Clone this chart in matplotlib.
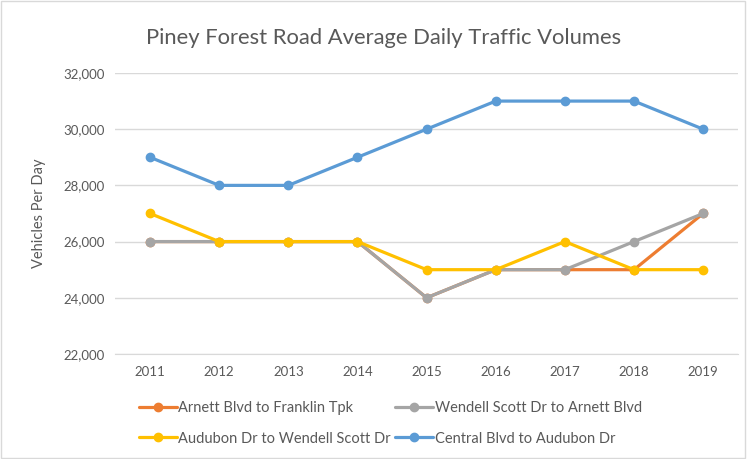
import matplotlib.pyplot as plt
from matplotlib.patches import Rectangle

years = ["2011", "2012", "2013", "2014", "2015", "2016", "2017", "2018", "2019"]
arnett_franklin = [26000, 26000, 26000, 26000, 24000, 25000, 25000, 25000, 27000]
wendell_arnett = [26000, 26000, 26000, 26000, 24000, 25000, 25000, 26000, 27000]
audubon_wendell = [27000, 26000, 26000, 26000, 25000, 25000, 26000, 25000, 25000]
central_audubon = [29000, 28000, 28000, 29000, 30000, 31000, 31000, 31000, 30000]

series = [
    ("Arnett Blvd to Franklin Tpk", arnett_franklin, "#ED7D31"),
    ("Wendell Scott Dr to Arnett Blvd", wendell_arnett, "#A5A5A5"),
    ("Audubon Dr to Wendell Scott Dr", audubon_wendell, "#FFC000"),
    ("Central Blvd to Audubon Dr", central_audubon, "#5B9BD5"),
]

plt.rcParams['font.family'] = ['Lato', 'DejaVu Sans']

fig = plt.figure(figsize=(7.47, 4.59), dpi=100)
ax = fig.add_axes([0.1546, 0.2288, 0.8330, 0.6122])

x = list(range(len(years)))
handles = {}
for name, vals, col in series:
    h, = ax.plot(x, vals, color=col, linewidth=2.3, marker='o', markersize=6,
                 solid_capstyle='round', label=name)
    handles[name] = h

ax.set_xlim(-0.5, len(years) - 0.5)
ax.set_ylim(22000, 32000)
ax.set_yticks(range(22000, 32001, 2000))
ax.set_yticklabels([f"{v:,}" for v in range(22000, 32001, 2000)])
ax.set_xticks(x)
ax.set_xticklabels(years)
ax.tick_params(axis='both', length=0, labelsize=9.5, colors='#595959')
ax.tick_params(axis='x', pad=9)
ax.tick_params(axis='y', pad=8)
ax.grid(axis='y', color='#D9D9D9', linewidth=1)
ax.set_axisbelow(True)
for s in ['top', 'right', 'left']:
    ax.spines[s].set_visible(False)
ax.spines['bottom'].set_color('#D9D9D9')

ax.set_ylabel("Vehicles Per Day", fontsize=10.5, color='#595959', labelpad=12)
fig.text(0.513, 0.918, "Piney Forest Road Average Daily Traffic Volumes",
         fontsize=15.8, color='#595959', ha='center', va='center')

# legend: two rows, filled column-wise by matplotlib
order = [series[0][0], series[2][0], series[1][0], series[3][0]]
fig.legend([handles[n] for n in order], order, ncol=2, loc='upper left',
           bbox_to_anchor=(0.178, 0.138), frameon=False,
           fontsize=10.5, labelcolor='#595959', handlelength=2.6,
           handletextpad=0.1, columnspacing=0.3, labelspacing=1.1,
           borderaxespad=0)

fig.patches.append(Rectangle((0.002, 0.003), 0.995, 0.994, transform=fig.transFigure,
                             fill=False, edgecolor='#D9D9D9', linewidth=1))

fig.savefig("out.png", dpi=100)
